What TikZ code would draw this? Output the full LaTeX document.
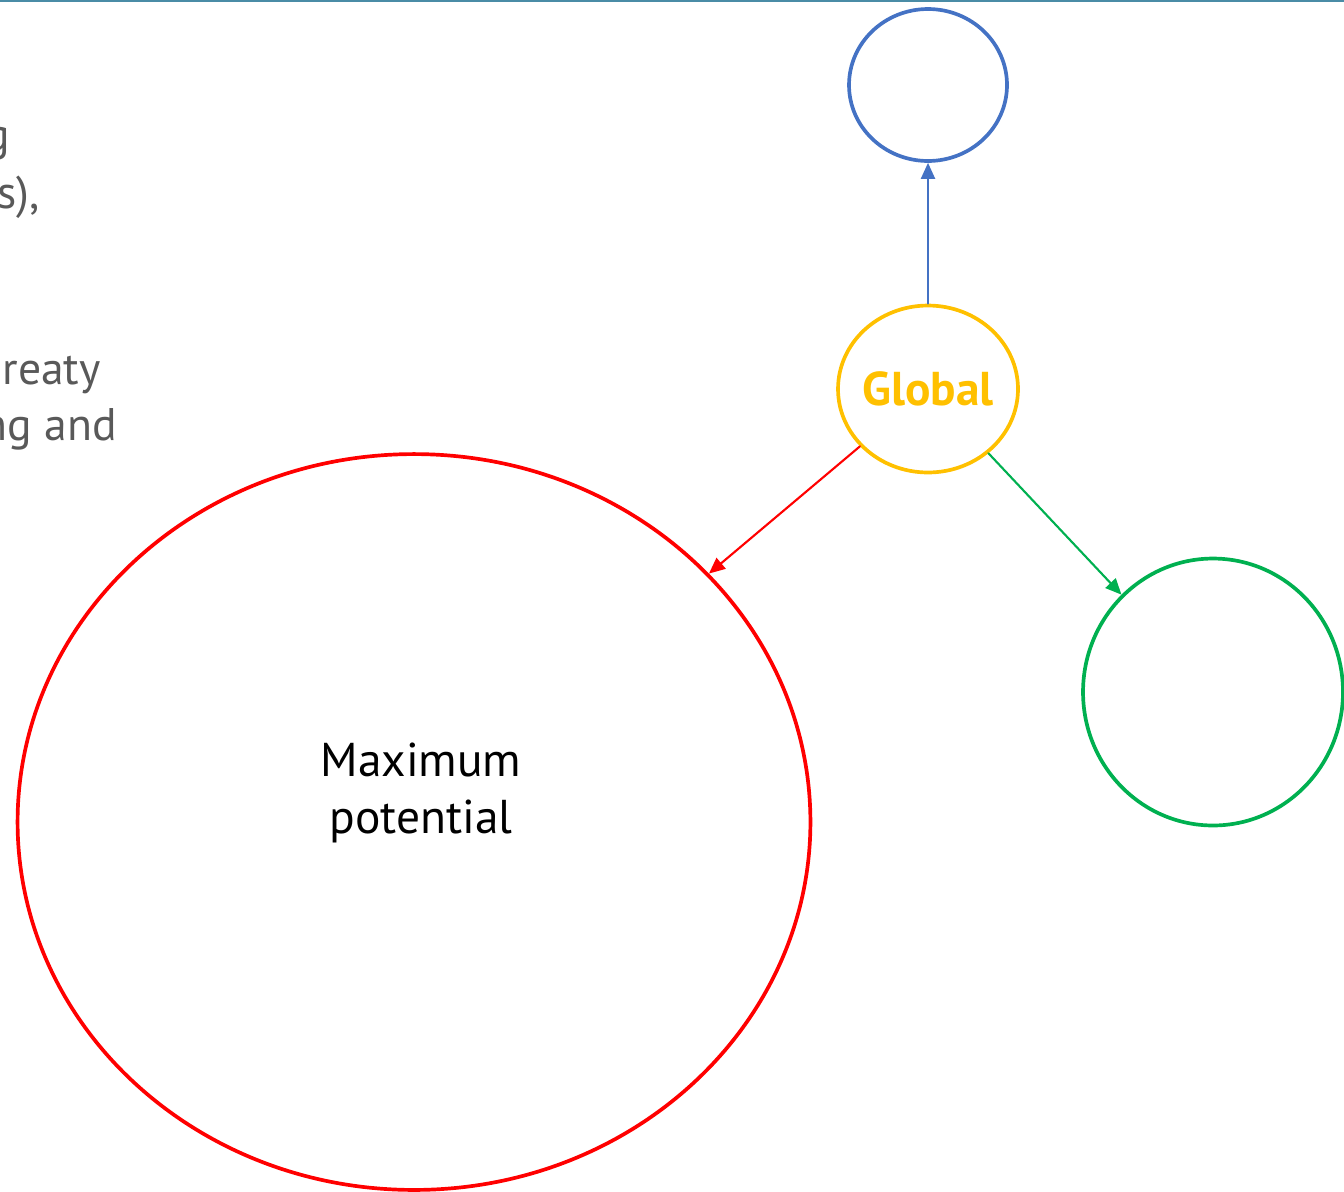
\documentclass[tikz,border=0pt]{standalone}
\usepackage{fontspec}
\setmainfont{PT Sans}
\usetikzlibrary{arrows.meta, shapes}
\usetikzlibrary{positioning}

\definecolor{topteal}{RGB}{74,140,166}
\definecolor{ringblue}{RGB}{68,114,196}
\definecolor{ringgold}{RGB}{255,192,0}
\definecolor{ringred}{RGB}{255,0,0}
\definecolor{ringgreen}{RGB}{0,176,80}
\definecolor{bodygray}{RGB}{89,89,89}

\begin{document}
\begin{tikzpicture}[line cap=round,line join=round,>={Triangle[length=0.32cm,width=0.28cm]},x=0.02cm,y=-0.02cm,
  ring/.style={draw, ellipse, inner sep=0pt, line width=2.1pt},
  link/.style={->, line width=1.2pt},
  cuttext/.style={color=bodygray, anchor=base east, inner sep=0pt, font=\fontsize{26}{31}\selectfont}]
\useasboundingbox (0,0) rectangle (1344,1191);
\fill[color=topteal] (0,0) rectangle (1344,2);
% text cut at the left edge
\node[cuttext] (lineone) at (10,150) {g};
\node[cuttext] (linetwo) at (40,208) {s),};
\node[cuttext] (linethree) at (101,384) {reaty};
\node[cuttext] (linefour) at (117,440) {ng and};
% rings
\node[ring, color=ringblue, minimum width=3.16cm, minimum height=3.04cm] (top) at (928,85) {};
\node[ring, color=ringgold, inner sep=-12pt, minimum width=3.6cm, minimum height=3.34cm, font=\fontsize{27}{32}\selectfont\bfseries] (global) at (928,389) {Global};
\node[ring, color=ringred, minimum width=15.86cm, minimum height=14.72cm] (max) at (414,822) {};
\node[ring, color=ringgreen, minimum width=5.2cm, minimum height=5.34cm] (side) at (1213,692) {};
\node[align=center, inner sep=0pt, font=\fontsize{27}{32}\selectfont] (maxlabel) at (421,793) {Maximum\\potential};
% links
\draw[link, color=ringblue] (global) -- (top);
\draw[link, color=ringred] (global) -- (max);
\draw[link, color=ringgreen] (global) -- (side);
\end{tikzpicture}
\end{document}
